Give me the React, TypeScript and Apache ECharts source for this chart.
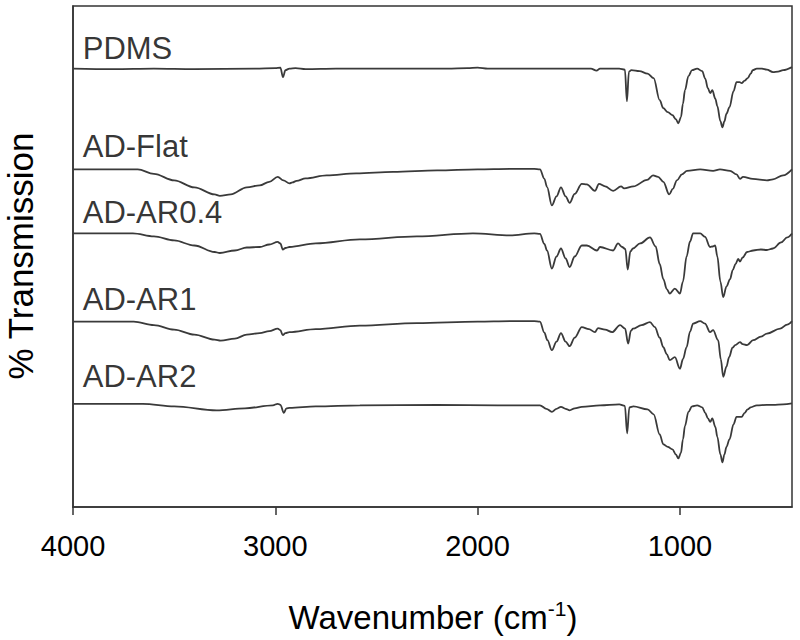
import React, { useEffect, useRef } from "react";
import * as echarts from "echarts";

// Wavenumber axis (cm-1), plotted high -> low
const xMin = 446;
const xMax = 4000;
const xTickValues = [4000, 3000, 2000, 1000];

// Spectra: [wavenumber, % transmission (offset, arbitrary units)]
const pdms: number[][] = [
  [4000, 87.5], [3800, 87.4], [3600, 87.5], [3400, 87.4], [3100, 87.5], [3000, 87.6], [2975, 87.7],
  [2962, 85.8], [2950, 87.2], [2930, 87.5], [2900, 87.6], [2850, 87.4], [2700, 87.5], [2400, 87.5],
  [2150, 87.5], [2050, 87.6], [2000, 87.7], [1950, 87.5], [1800, 87.5], [1600, 87.5], [1440, 87.5],
  [1412, 87.1], [1395, 87.5], [1300, 87.5], [1272, 87.3], [1262, 81.0], [1252, 86.9], [1240, 87.2],
  [1200, 87.0], [1160, 86.5], [1130, 85.6], [1100, 81.2], [1082, 79.6], [1060, 78.8], [1037, 78.2],
  [1020, 77.4], [1008, 76.6], [995, 77.8], [985, 80.5], [975, 83.2], [958, 86.0], [940, 87.2],
  [915, 87.5], [890, 87.0], [875, 85.5], [862, 83.6], [850, 82.6], [840, 83.2], [825, 81.5],
  [815, 80.0], [800, 77.0], [790, 75.8], [780, 77.0], [770, 78.5], [755, 79.8], [735, 83.0],
  [720, 84.8], [705, 84.8], [695, 84.6], [680, 85.1], [665, 85.6], [650, 86.5], [640, 87.2],
  [620, 87.5], [595, 87.5], [570, 87.3], [540, 86.8], [515, 86.9], [490, 87.2], [446, 87.8],
];

const adFlat: number[][] = [
  [4000, 67.4], [3800, 67.4], [3680, 67.4], [3600, 66.5], [3500, 65.2], [3400, 63.8], [3300, 62.4],
  [3274, 62.1], [3220, 62.4], [3141, 63.8], [3077, 64.2], [3030, 64.9], [2988, 65.9], [2960, 65.2],
  [2930, 64.6], [2915, 64.8], [2895, 65.1], [2850, 65.6], [2746, 66.2], [2600, 66.6], [2418, 66.9],
  [2200, 67.2], [2000, 67.4], [1840, 67.5], [1720, 67.5], [1692, 67.4], [1670, 65.5], [1657, 63.9],
  [1633, 60.2], [1610, 62.0], [1588, 63.8], [1565, 62.0], [1545, 60.7], [1520, 62.5], [1485, 64.5],
  [1460, 64.4], [1420, 63.1], [1400, 64.5], [1370, 64.0], [1330, 63.1], [1291, 64.0], [1276, 63.6],
  [1230, 64.0], [1162, 65.3], [1133, 66.2], [1108, 65.9], [1082, 64.9], [1053, 62.4], [1035, 63.5],
  [1015, 65.2], [990, 66.4], [965, 67.1], [900, 67.4], [836, 67.1], [802, 67.4], [752, 67.1],
  [720, 66.4], [703, 65.5], [688, 65.9], [640, 65.5], [570, 65.2], [540, 65.4], [490, 66.2], [446, 67.4],
];

const adAr04: number[][] = [
  [4000, 54.6], [3850, 54.6], [3704, 54.6], [3600, 54.0], [3500, 53.2], [3400, 52.2], [3300, 50.9],
  [3274, 50.7], [3200, 51.2], [3141, 51.8], [3077, 51.9], [3030, 52.4], [2988, 52.9], [2975, 52.6],
  [2963, 51.4], [2950, 51.7], [2930, 51.9], [2800, 52.6], [2582, 53.4], [2300, 54.0], [2023, 54.6],
  [1840, 54.2], [1720, 54.6], [1692, 54.5], [1670, 52.5], [1657, 51.2], [1633, 47.6], [1610, 50.0],
  [1588, 51.6], [1565, 49.6], [1545, 47.9], [1520, 50.0], [1485, 52.2], [1460, 52.2], [1410, 51.2],
  [1395, 51.9], [1330, 51.2], [1306, 52.6], [1286, 51.9], [1270, 51.5], [1258, 47.4], [1245, 51.0],
  [1232, 51.6], [1197, 52.6], [1148, 53.8], [1120, 52.0], [1100, 48.5], [1082, 45.5], [1065, 43.5],
  [1050, 42.6], [1025, 43.6], [1000, 42.6], [985, 45.0], [967, 50.0], [950, 53.0], [935, 54.6],
  [900, 54.6], [876, 53.9], [851, 51.9], [838, 52.0], [826, 52.2], [815, 50.0], [800, 45.0],
  [786, 41.9], [770, 44.0], [752, 45.5], [739, 47.3], [725, 48.5], [712, 49.5], [703, 49.0],
  [690, 49.8], [668, 50.9], [638, 51.2], [600, 51.4], [570, 51.3], [540, 51.6], [500, 52.8],
  [470, 53.8], [446, 54.6],
];

const adAr1: number[][] = [
  [4000, 37.0], [3850, 37.0], [3700, 37.0], [3600, 36.3], [3500, 35.4], [3400, 34.4], [3300, 33.4],
  [3270, 33.2], [3200, 33.6], [3141, 34.4], [3077, 34.7], [3030, 35.1], [2988, 35.6], [2975, 35.3],
  [2963, 34.3], [2950, 34.7], [2930, 34.9], [2800, 35.5], [2582, 36.2], [2300, 36.7], [2000, 37.0],
  [1840, 37.1], [1720, 37.1], [1692, 37.0], [1670, 34.8], [1655, 33.3], [1633, 31.3], [1610, 33.0],
  [1588, 34.7], [1565, 33.0], [1545, 32.1], [1520, 33.8], [1485, 35.9], [1450, 35.5], [1420, 34.9],
  [1405, 35.7], [1370, 35.4], [1335, 34.9], [1296, 36.3], [1271, 35.6], [1256, 32.6], [1242, 35.2],
  [1232, 35.6], [1190, 36.3], [1148, 36.9], [1124, 35.9], [1100, 33.8], [1082, 31.9], [1065, 30.5],
  [1050, 29.3], [1025, 29.9], [1000, 27.6], [985, 29.5], [967, 31.9], [950, 35.0], [935, 36.6],
  [900, 37.1], [876, 36.6], [851, 34.9], [836, 35.3], [811, 33.3], [798, 29.5], [786, 26.0],
  [770, 28.0], [757, 29.9], [740, 31.8], [727, 32.3], [703, 32.9], [690, 32.5], [668, 32.3],
  [638, 33.3], [600, 34.0], [570, 34.6], [505, 35.6], [470, 36.4], [446, 37.1],
];

const adAr2: number[][] = [
  [4000, 20.6], [3800, 20.6], [3655, 20.6], [3500, 20.1], [3290, 19.3], [3150, 19.7], [3012, 20.3],
  [2988, 20.6], [2975, 20.4], [2958, 18.8], [2945, 19.7], [2930, 19.8], [2800, 20.1], [2582, 20.3],
  [2200, 20.4], [1900, 20.3], [1692, 20.3], [1660, 19.6], [1633, 19.0], [1610, 19.6], [1588, 20.0],
  [1565, 19.6], [1545, 19.3], [1520, 19.7], [1485, 20.0], [1395, 20.3], [1300, 20.5], [1272, 20.2],
  [1261, 14.7], [1250, 19.9], [1230, 20.1], [1160, 19.5], [1130, 18.5], [1100, 14.5], [1082, 12.5],
  [1060, 12.0], [1037, 11.5], [1020, 10.5], [1008, 9.7], [995, 10.8], [985, 13.5], [975, 16.2],
  [958, 19.0], [940, 20.1], [915, 20.3], [890, 19.9], [875, 18.8], [862, 17.7], [850, 17.0],
  [840, 17.7], [825, 16.0], [815, 14.0], [800, 10.5], [790, 8.9], [780, 10.5], [770, 12.0],
  [755, 13.5], [735, 16.5], [720, 18.0], [705, 18.0], [695, 18.0], [680, 18.8], [665, 19.5],
  [650, 19.9], [620, 20.3], [570, 20.4], [540, 20.4], [490, 20.5], [446, 20.7],
];

const seriesNames = ["PDMS", "AD-Flat", "AD-AR0.4", "AD-AR1", "AD-AR2"];
const seriesData = [pdms, adFlat, adAr04, adAr1, adAr2];

// Text labels for each spectrum, anchored in data space (left edge, vertical middle)
const labelWavenumber = [3952, 3952, 3952, 3952, 3952];
const labelLevel = [91.6, 71.9, 58.7, 41.4, 26.0];

const FONT = "'Liberation Sans', Arial, Helvetica, sans-serif";
const LINE = "#3a3a3a";
const AXIS = "#333333";

export default function App() {
  const ref = useRef<HTMLDivElement>(null);

  useEffect(() => {
    document.body.style.margin = "0";
    if (!ref.current) return;
    const chart = echarts.init(ref.current, undefined, { renderer: "svg" });

    const lineSeries = seriesNames.map((name, i) => ({
      name,
      type: "line",
      data: seriesData[i],
      showSymbol: false,
      symbol: "none",
      smooth: 0.35,
      smoothMonotone: "x",
      lineStyle: { color: LINE, width: 1.8 },
      silent: true,
      z: 3,
    }));

    const labelSeries = {
      type: "scatter",
      symbolSize: 0,
      silent: true,
      data: seriesNames.map((name, i) => ({ name, value: [labelWavenumber[i], labelLevel[i]] })),
      label: {
        show: true,
        position: "right",
        distance: 0,
        formatter: "{b}",
        fontFamily: FONT,
        fontSize: 31,
        color: "#000",
      },
      z: 4,
    };

    chart.setOption({
      animation: false,
      backgroundColor: "#ffffff",
      grid: {
        left: 73,
        right: 8,
        top: 6,
        bottom: 133,
        show: true,
        borderColor: AXIS,
        borderWidth: 1.5,
        containLabel: false,
        outerBoundsMode: "none",
      },
      xAxis: {
        type: "value",
        min: xMin,
        max: xMax,
        inverse: true,
        splitLine: { show: false },
        axisLine: { show: true, onZero: false, lineStyle: { color: AXIS, width: 1.5 } },
        axisTick: {
          show: true,
          inside: false,
          length: 8,
          customValues: xTickValues,
          lineStyle: { color: AXIS, width: 1.5 },
        },
        axisLabel: {
          show: true,
          customValues: xTickValues,
          formatter: (v: number) => String(v),
          fontFamily: FONT,
          fontSize: 29,
          color: "#000",
          margin: 24,
        },
      },
      yAxis: {
        type: "value",
        min: 0,
        max: 100,
        splitLine: { show: false },
        axisLine: { show: true, onZero: false, lineStyle: { color: AXIS, width: 1.5 } },
        axisTick: { show: false },
        axisLabel: { show: false },
      },
      graphic: [
        {
          type: "text",
          x: 433,
          y: 617,
          style: {
            text: "{a|Wavenumber (cm}{s|-1}{a|)}",
            align: "center",
            verticalAlign: "middle",
            rich: {
              a: { fontFamily: FONT, fontSize: 33, fill: "#000", lineHeight: 38 },
              s: { fontFamily: FONT, fontSize: 21, fill: "#000", verticalAlign: "top", lineHeight: 24 },
            },
          },
        },
        {
          type: "text",
          x: 20,
          y: 256,
          rotation: Math.PI / 2,
          style: {
            text: "% Transmission",
            fontFamily: FONT,
            fontSize: 35,
            fill: "#000",
            align: "center",
            verticalAlign: "middle",
          },
        },
      ],
      series: [...lineSeries, labelSeries],
    });

    return () => chart.dispose();
  }, []);

  return <div ref={ref} style={{ width: 800, height: 640 }} />;
}
